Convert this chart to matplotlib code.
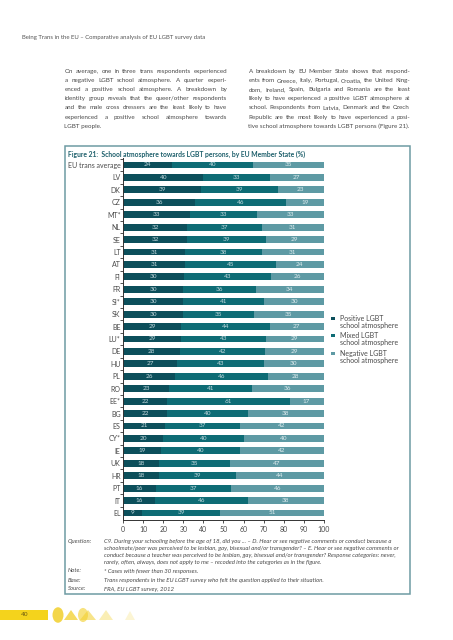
import matplotlib
matplotlib.use("Agg")
import matplotlib.pyplot as plt
from matplotlib.patches import Rectangle, Circle, Polygon
import numpy as np

# ---------------- data ----------------
countries = ["EU trans average", "LV", "DK", "CZ", "MT*", "NL", "SE", "LT", "AT", "FI",
             "FR", "SI*", "SK", "BE", "LU*", "DE", "HU", "PL", "RO", "EE*",
             "BG", "ES", "CY*", "IE", "UK", "HR", "PT", "IT", "EL"]
positive = [24, 40, 39, 36, 33, 32, 32, 31, 31, 30, 30, 30, 30, 29, 29, 28, 27, 26, 23, 22,
            22, 21, 20, 19, 18, 18, 16, 16, 9]
mixed = [40, 33, 39, 46, 33, 37, 39, 38, 45, 43, 36, 41, 35, 44, 43, 42, 43, 46, 41, 61,
         40, 37, 40, 40, 35, 39, 37, 46, 39]
negative = [35, 27, 23, 19, 33, 31, 29, 31, 24, 26, 34, 30, 35, 27, 29, 29, 30, 28, 36, 17,
            38, 42, 40, 42, 47, 44, 46, 38, 51]
series_names = ["Positive LGBT\nschool atmosphere", "Mixed LGBT\nschool atmosphere",
                "Negative LGBT\nschool atmosphere"]
x_ticks = [0, 10, 20, 30, 40, 50, 60, 70, 80, 90, 100]

colors = ["#0c4f5b", "#0e6c75", "#5e9aa4"]
TXT = "#4a4a4a"
BORDER = "#6e9ba3"

W, H = 453, 640
fig = plt.figure(figsize=(W / 100, H / 100), dpi=100)
FONT = ["Lato", "DejaVu Sans"]
plt.rcParams["font.family"] = FONT
renderer = fig.canvas.get_renderer()


def P(x, y):
    return x / W, 1 - y / H


def ftext(x, y, s, **kw):
    kw.setdefault("color", TXT)
    kw.setdefault("va", "center")
    return fig.text(*P(x, y), s, **kw)


def width_at(s, size, **kw):
    t = fig.text(0, 0, s, fontsize=size, **kw)
    w = t.get_window_extent(renderer).width
    t.remove()
    return w


def fit(s, target, **kw):
    return 10.0 * target / width_at(s, 10.0, **kw)


def justify(lines, x0, x1, y0, dy, size):
    for i, line in enumerate(lines):
        y = y0 + i * dy
        if i == len(lines) - 1:
            ftext(x0, y, line, fontsize=size)
            continue
        words = line.split(" ")
        ts = [ftext(x0, y, w, fontsize=size) for w in words]
        widths = [t.get_window_extent(renderer).width for t in ts]
        gap = (x1 - x0 - sum(widths)) / max(len(words) - 1, 1)
        x = x0
        for t, w in zip(ts, widths):
            t.set_position(P(x, y))
            x += w + gap


# header
header = "Being Trans in the EU \u2013 Comparative analysis of EU LGBT survey data"
ftext(22, 38, header, fontsize=fit(header, 183), color="#555555")

left_par = [
    "On average, one in three trans respondents experienced",
    "a negative LGBT school atmosphere. A quarter experi-",
    "enced a positive school atmosphere. A breakdown by",
    "identity group reveals that the queer/other respondents",
    "and the male cross dressers are the least likely to have",
    "experienced a positive school atmosphere towards",
    "LGBT people.",
]
right_par = [
    "A breakdown by EU Member State shows that respond-",
    "ents from Greece, Italy, Portugal, Croatia, the United King-",
    "dom, Ireland, Spain, Bulgaria and Romania are the least",
    "likely to have experienced a positive LGBT atmosphere at",
    "school. Respondents from Latvia, Denmark and the Czech",
    "Republic are the most likely to have experienced a posi-",
    "tive school atmosphere towards LGBT persons (Figure 21).",
]
psize = min(fit(l, 161) for l in left_par[:-1] + right_par)
justify(left_par, 64.5, 227, 71.3, 9.17, psize)
justify(right_par, 248.5, 410, 71.3, 9.17, psize)

# figure box
fig.patches.append(Rectangle(P(64.5, 594), (410 - 64.5) / W, (594 - 146) / H,
                             transform=fig.transFigure, fill=False,
                             edgecolor=BORDER, linewidth=1.1))
title = "Figure 21:  School atmosphere towards LGBT persons, by EU Member State (%)"
ftext(68, 154.5, title, fontsize=fit(title, 237, fontweight="bold"),
      fontweight="bold", color="#1d5f6b")

# ---------------- chart ----------------
n = len(countries)
y0_px, dy_px = 165.0, (513.0 - 165.0) / (n - 1)
top_px = y0_px - 0.6 * dy_px
bot_px = y0_px + (n - 1 + 0.6) * dy_px
ax_l, ax_r = 123.3, 323.7
ax = fig.add_axes([ax_l / W, 1 - bot_px / H, (ax_r - ax_l) / W, (bot_px - top_px) / H])

lsize = min(fit("EU trans average", 52), 6.0)
vals = np.array([positive, mixed, negative], dtype=float)
norm = vals / vals.sum(axis=0) * 100
ypos = np.arange(n)
left = np.zeros(n)
for k in range(3):
    ax.barh(ypos, norm[k], left=left, height=0.56, color=colors[k], edgecolor="none")
    for i in range(n):
        ax.text(left[i] + norm[k][i] / 2, ypos[i], f"{int(vals[k][i])}",
                ha="center", va="center", fontsize=4.6,
                color="#c3d9de" if k < 2 else "#e0edef")
    left += norm[k]

ax.set_xlim(0, 100)
ax.set_ylim(n - 1 + 0.6, -0.6)
ax.set_yticks(ypos)
ax.set_yticklabels(countries, fontsize=lsize, color=TXT)
ax.tick_params(axis="y", length=0, pad=2)
ax.set_yticks(np.arange(n) - 0.5, minor=True)
ax.tick_params(axis="y", which="minor", length=2, width=0.6, color="#333333", direction="out")
ax.set_xticks(x_ticks)
ax.set_xticklabels([str(t) for t in x_ticks], fontsize=lsize, color=TXT)
ax.tick_params(axis="x", length=2.5, width=0.6, color="#333333", pad=1.5)
for s in ["top", "right"]:
    ax.spines[s].set_visible(False)
for s in ["left", "bottom"]:
    ax.spines[s].set_linewidth(0.7)
    ax.spines[s].set_color("#333333")
ax.set_facecolor("none")

# legend (manual)
legsize = fit("school atmosphere", 58)
leg_y = [318.3, 335.8, 353.3]
for k in range(3):
    fig.patches.append(Rectangle(P(331.3, leg_y[k] + 1.6), 3.2 / W, 3.2 / H,
                                 transform=fig.transFigure, color=colors[k], lw=0))
    l1, l2 = series_names[k].split("\n")
    ftext(340.5, leg_y[k], l1, fontsize=legsize)
    ftext(340.5, leg_y[k] + 7.0, l2, fontsize=legsize)

# notes
notes = [
    ("Question:", [
        "C9. During your schooling before the age of 18, did you ... \u2013 D. Hear or see negative comments or conduct because a",
        "schoolmate/peer was perceived to be lesbian, gay, bisexual and/or transgender? \u2013 E. Hear or see negative comments or",
        "conduct because a teacher was perceived to be lesbian, gay, bisexual and/or transgender? Response categories: never,",
        "rarely, often, always, does not apply to me \u2013 recoded into the categories as in the figure.",
    ], 541.7),
    ("Note:", ["* Cases with fewer than 30 responses."], 571.0),
    ("Base:", ["Trans respondents in the EU LGBT survey who felt the question applied to their situation."], 580.0),
    ("Source:", ["FRA, EU LGBT survey, 2012"], 589.0),
]
nsize = fit(notes[0][1][1], 295, style="italic")
for lab, lines, y in notes:
    ftext(67.5, y, lab, fontsize=nsize, style="italic")
    for j, line in enumerate(lines):
        ftext(104.5, y + j * 7.0, line, fontsize=nsize, style="italic")

# footer
fig.patches.append(Rectangle(P(0, 620), 48 / W, 10 / H, transform=fig.transFigure,
                             color="#f4d31c", lw=0))
ftext(25, 615, "40", fontsize=4.6, color="#6b5a10", ha="center")
fig.patches.append(Circle(P(58, 615), 5.5 / W, transform=fig.transFigure,
                          color="#f2cf2a", lw=0, alpha=0.85))
shapes = [
    ([(64, 620), (71, 610), (78, 620)], 0.75),
    ([(80, 620), (88, 610), (96, 620)], 0.55),
    ([(99, 620), (106, 610), (113, 620)], 0.35),
    ([(125, 620), (130, 611), (135, 620)], 0.2),
]
fig.patches.append(Circle(P(83, 615), 5.0 / W, transform=fig.transFigure,
                          color="#f2cf2a", lw=0, alpha=0.6))
for pts, a in shapes:
    fig.patches.append(Polygon([P(x, y) for x, y in pts], closed=True,
                               transform=fig.transFigure, color="#f2cf2a", lw=0, alpha=a))

fig.savefig("out.png", dpi=100)
